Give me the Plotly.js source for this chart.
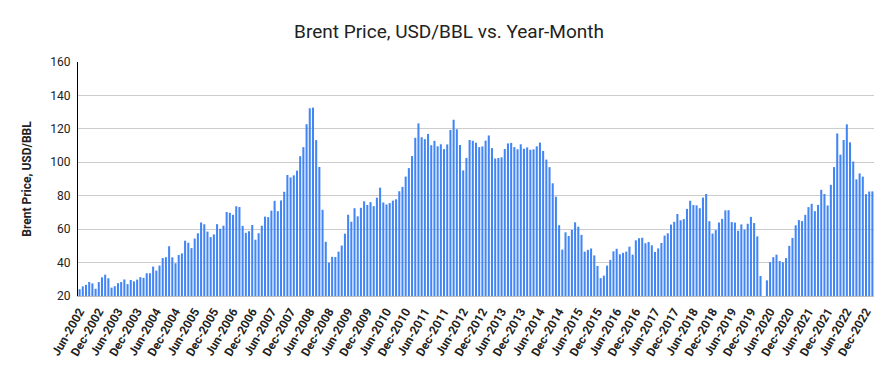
<!DOCTYPE html>
<html>
<head>
<meta charset="utf-8">
<script src="https://cdn.plot.ly/plotly-3.0.1.min.js"></script>
<style>html,body{margin:0;padding:0;background:#fff;}#chart{width:893px;height:371px;}</style>
</head>
<body>
<div id="chart"></div>
<script>
// Brent monthly average price, USD/BBL (Jun 2002 – Feb 2023)
var monthNames = ["Jan","Feb","Mar","Apr","May","Jun","Jul","Aug","Sep","Oct","Nov","Dec"];
var startYear = 2002, startMonth = 5; // Jun 2002 (0-based month index)
var p2002 = [24.08,25.74,26.65,28.40,27.54,24.34,28.33];
var p2003 = [31.18,32.77,30.61,25.00,25.86,27.65,28.35,29.89,27.11,29.61,28.75,29.81];
var p2004 = [31.28,30.86,33.63,33.59,37.57,35.18,38.22,42.74,43.20,49.78,43.11,39.60];
var p2005 = [44.51,45.48,53.10,51.88,48.65,54.35,57.52,63.98,62.91,58.54,55.24,56.86];
var p2006 = [62.99,60.21,62.06,70.26,69.78,68.56,73.67,73.23,61.96,57.81,58.76,62.47];
var p2007 = [53.68,57.56,62.05,67.49,67.21,71.05,76.93,70.76,77.17,82.34,92.41,90.93];
var p2008 = [92.18,94.99,103.64,109.07,122.80,132.32,132.72,113.24,97.23,71.58,52.45,39.95];
var p2009 = [43.44,43.32,46.54,50.18,57.30,68.61,64.44,72.51,67.65,72.77,76.66,74.46];
var p2010 = [76.17,73.75,78.83,84.82,75.95,74.76,75.58,77.04,77.84,82.67,85.28,91.45];
var p2011 = [96.52,103.72,114.64,123.26,114.99,113.83,116.97,110.22,112.83,109.55,110.77,107.87];
var p2012 = [110.69,119.33,125.45,119.75,110.34,95.16,102.62,113.36,112.86,111.71,109.06,109.49];
var p2013 = [112.96,116.05,108.47,102.25,102.56,102.92,107.93,111.28,111.60,109.08,107.79,110.76];
var p2014 = [108.12,108.90,107.48,107.76,109.54,111.80,106.77,101.61,97.09,87.43,79.44,62.34];
var p2015 = [47.76,58.10,55.89,59.52,64.08,61.48,56.56,46.52,47.62,48.43,44.27,38.01];
var p2016 = [30.70,32.18,38.21,41.58,46.74,48.25,44.95,45.84,46.57,49.52,44.73,53.31];
var p2017 = [54.58,54.87,51.59,52.31,50.33,46.37,48.48,51.70,56.15,57.51,62.71,64.37];
var p2018 = [69.08,65.32,66.02,72.11,76.98,74.41,74.25,72.53,78.89,81.03,64.75,57.36];
var p2019 = [59.41,63.96,66.14,71.23,71.32,64.22,63.92,59.04,62.83,59.71,63.21,67.31];
var p2020 = [63.65,55.66,32.01,18.38,29.38,40.27,43.24,44.74,40.91,40.19,42.69,49.99];
var p2021 = [54.77,62.28,65.41,64.81,68.53,73.16,75.17,70.75,74.49,83.54,81.05,74.17];
var p2022 = [86.51,97.13,117.25,104.58,113.34,122.71,111.93,100.45,89.76,93.33,91.42,80.92];
var p2023 = [82.50,82.59];

var tickLabels = ["Jun-2002","Dec-2002","Jun-2003","Dec-2003","Jun-2004","Dec-2004","Jun-2005","Dec-2005",
  "Jun-2006","Dec-2006","Jun-2007","Dec-2007","Jun-2008","Dec-2008","Jun-2009","Dec-2009","Jun-2010","Dec-2010",
  "Jun-2011","Dec-2011","Jun-2012","Dec-2012","Jun-2013","Dec-2013","Jun-2014","Dec-2014","Jun-2015","Dec-2015",
  "Jun-2016","Dec-2016","Jun-2017","Dec-2017","Jun-2018","Dec-2018","Jun-2019","Dec-2019","Jun-2020","Dec-2020",
  "Jun-2021","Dec-2021","Jun-2022","Dec-2022"];

var prices = [].concat(p2002,p2003,p2004,p2005,p2006,p2007,p2008,p2009,p2010,p2011,p2012,p2013,
  p2014,p2015,p2016,p2017,p2018,p2019,p2020,p2021,p2022,p2023);
var categories = [];
for (var i = 0; i < prices.length; i++) {
  var m = (startMonth + i) % 12;
  var y = startYear + Math.floor((startMonth + i) / 12);
  categories.push(monthNames[m] + "-" + y);
}

var trace = {
  type: "bar",
  x: categories,
  y: prices,
  marker: {color: "#4285F4"},
  hoverinfo: "x+y"
};

var layout = {
  width: 893, height: 371,
  margin: {l: 78, r: 19, t: 62, b: 75},
  paper_bgcolor: "#fff", plot_bgcolor: "#fff",
  bargap: 0.36,
  showlegend: false,
  font: {family: "Roboto, Arial, sans-serif", color: "#222"},
  title: {
    text: "Brent Price, USD/BBL vs. Year-Month",
    font: {family: "Roboto, Arial, sans-serif", size: 19, color: "#222"},
    x: 449/893, xanchor: "center", xref: "container",
    y: 1 - 31/371, yanchor: "middle", yref: "container"
  },
  xaxis: {
    type: "category",
    tickmode: "array",
    tickvals: tickLabels,
    ticktext: tickLabels,
    tickangle: -60,
    tickfont: {family: "Roboto, Arial, sans-serif", size: 12, color: "#222", weight: "bold"},
    showgrid: false,
    showline: true, linecolor: "#bdbdbd", linewidth: 1,
    ticks: "",
    ticklabelstandoff: 3,
    automargin: false,
    fixedrange: true
  },
  yaxis: {
    range: [20, 160],
    tickvals: [20,40,60,80,100,120,140,160],
    tickfont: {family: "Roboto, Arial, sans-serif", size: 12, color: "#222"},
    gridcolor: "#cccccc", gridwidth: 1,
    showline: true, linecolor: "#000", linewidth: 1,
    zeroline: false,
    ticks: "",
    ticklabelstandoff: 4,
    title: {
      text: "Brent Price, USD/BBL",
      font: {family: "Roboto, Arial, sans-serif", size: 12, color: "#222", weight: "bold"},
      standoff: 16
    },
    automargin: false,
    fixedrange: true
  }
};

Plotly.newPlot("chart", [trace], layout, {displayModeBar: false, staticPlot: true});
</script>
</body>
</html>
